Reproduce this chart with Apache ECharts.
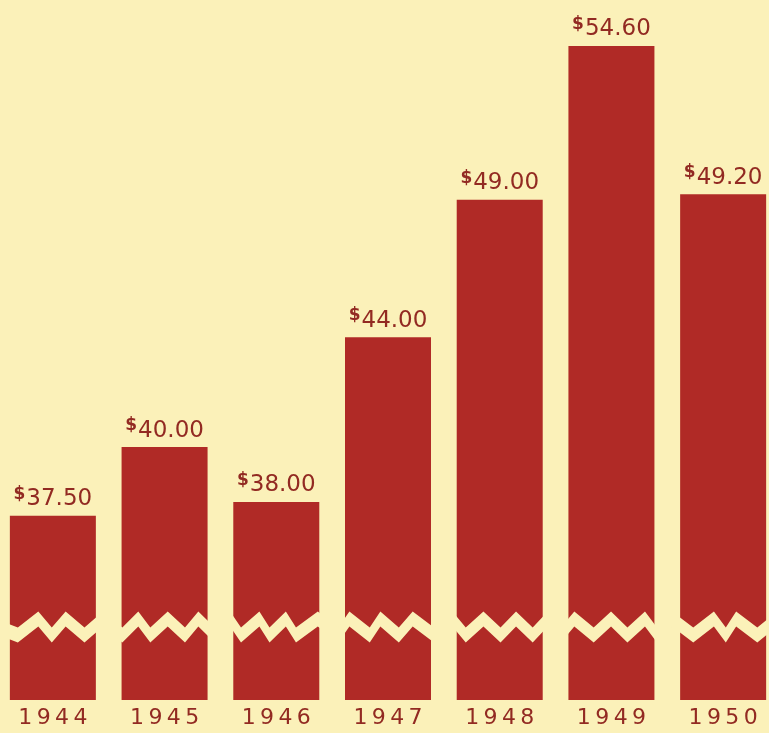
<!DOCTYPE html>
<html>
<head>
<meta charset="utf-8">
<script src="https://cdn.jsdelivr.net/npm/echarts@6/dist/echarts.min.js"></script>
<style>
html,body{margin:0;padding:0;background:#fbf1b9;overflow:hidden;width:769px;height:733px;}
#chart{position:absolute;left:-3px;top:0;width:782px;height:733px;}
</style>
</head>
<body>
<div id="chart"></div>
<script>
const years = ['1944','1945','1946','1947','1948','1949','1950'];
const prices = [37.50, 40.00, 38.00, 44.00, 49.00, 54.60, 49.20];

const bg = '#fbf1b9';
const barColor = '#b02a26';
const textColor = '#922a22';

const chart = echarts.init(document.getElementById('chart'));
chart.setOption({
  backgroundColor: bg,
  animation: false,
  grid: { left: 0, right: 0, top: 35, bottom: 33, containLabel: false },
  xAxis: {
    type: 'category',
    data: years,
    axisLine: { show: false },
    axisTick: { show: false },
    axisLabel: {
      color: textColor,
      fontFamily: 'DejaVu Sans',
      fontSize: 22,
      margin: 7,
      formatter: v => v.split('').join('\u2009')
    }
  },
  yAxis: {
    type: 'value',
    min: 0,
    max: 55,
    axisLine: { show: false },
    axisTick: { show: false },
    axisLabel: { show: false },
    splitLine: { show: false },
    breaks: [{ start: 2.4, end: 33.75, gap: '2.3%' }],
    breakArea: {
      show: true,
      itemStyle: { color: bg, borderColor: bg, borderWidth: 0, opacity: 1 },
      zigzagAmplitude: 8,
      zigzagMinSpan: 10,
      zigzagMaxSpan: 22,
      zigzagZ: 100,
      expandOnClick: false
    }
  },
  series: [{
    type: 'bar',
    data: prices,
    barWidth: 86,
    itemStyle: { color: barColor },
    label: {
      show: true,
      position: 'top',
      distance: 3,
      formatter: p => '{d|$}{v|' + p.value.toFixed(2) + '}',
      rich: {
        d: { color: textColor, fontFamily: 'DejaVu Sans', fontSize: 17, fontWeight: 'bold', padding: [0, 1, 10, 0] },
        v: { color: textColor, fontFamily: 'DejaVu Sans', fontSize: 23 }
      }
    }
  }]
});
</script>
</body>
</html>
